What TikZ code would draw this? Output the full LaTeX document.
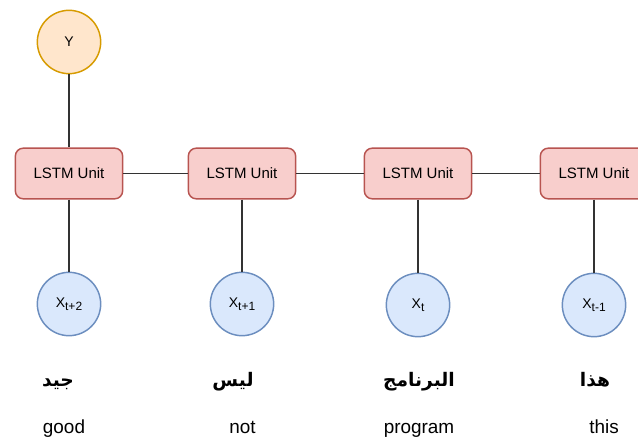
\documentclass[tikz,border=0pt]{standalone}
\usepackage{fontspec}
\setmainfont{Liberation Sans}
\newfontfamily\arabicfont[Script=Arabic]{DejaVu Sans}
\TeXXeTstate=1
\definecolor{unitfill}{HTML}{F8CECC}
\definecolor{unitdraw}{HTML}{B85450}
\definecolor{infill}{HTML}{DAE8FC}
\definecolor{indraw}{HTML}{6C8EBF}
\definecolor{outfill}{HTML}{FFE6CC}
\definecolor{outdraw}{HTML}{D79B00}
\definecolor{wire}{HTML}{333333}
% input symbol with a lowered index
\newcommand{\xin}[1]{X\raisebox{-0.35ex}{\fontsize{9}{10}\selectfont #1}}
\begin{document}
\begin{tikzpicture}[x=0.75pt,y=-0.75pt,
  unit/.style={draw=unitdraw,fill=unitfill,line width=1.1pt,rounded corners=6pt,
    minimum width=80.5pt,minimum height=38pt,inner sep=0pt,
    font=\fontsize{11.25}{13}\selectfont},
  inword/.style={circle,draw=indraw,fill=infill,line width=1.1pt,minimum size=47.5pt,
    inner sep=0pt,font=\fontsize{10.5}{12}\selectfont},
  outword/.style={circle,draw=outdraw,fill=outfill,line width=1.1pt,minimum size=47.5pt,
    inner sep=0pt,font=\fontsize{10.5}{12}\selectfont},
  link/.style={draw=wire,line width=1.1pt},
  arword/.style={anchor=base,inner sep=0pt,font=\arabicfont\bfseries\fontsize{14}{16}\selectfont},
  enword/.style={anchor=base,inner sep=0pt,font=\fontsize{14.2}{17}\selectfont}]
\clip (0,0) rectangle (638,442);
\fill[white] (0,0) rectangle (638,442);

% output node
\node[outword] (y) at (69,42) {Y};

% LSTM chain
\node[unit] (u1) at (69,173.5) {LSTM Unit};
\node[unit] (u2) at (242,173.5) {LSTM Unit};
\node[unit] (u3) at (418,173.5) {LSTM Unit};
\node[unit] (u4) at (594,173.5) {LSTM Unit};

% inputs
\node[inword] (x1) at (69,304) {\xin{t+2}};
\node[inword] (x2) at (242,304) {\xin{t+1}};
\node[inword] (x3) at (418,305) {\xin{t}};
\node[inword] (x4) at (594,305) {\xin{t-1}};

% connectors
\path[link] (y) -- (u1);
\path[link] (u1) -- (u2);
\path[link] (u2) -- (u3);
\path[link] (u3) -- (u4);
\path[link] (u1) -- (x1);
\path[link] (u2) -- (x2);
\path[link] (u3) -- (x3);
\path[link] (u4) -- (x4);

% words
\node[arword] (a1) at (58,386) {\beginR جيد\endR};
\node[arword] (a2) at (233,386) {\beginR ليس\endR};
\node[arword] (a3) at (419,386) {\beginR البرنامج\endR};
\node[arword] (a4) at (595,386) {\beginR هذا\endR};

\node[enword] (e1) at (64,433) {good};
\node[enword] (e2) at (242.5,433) {not};
\node[enword] (e3) at (419,433) {program};
\node[enword] (e4) at (604,433) {this};
\end{tikzpicture}
\end{document}
